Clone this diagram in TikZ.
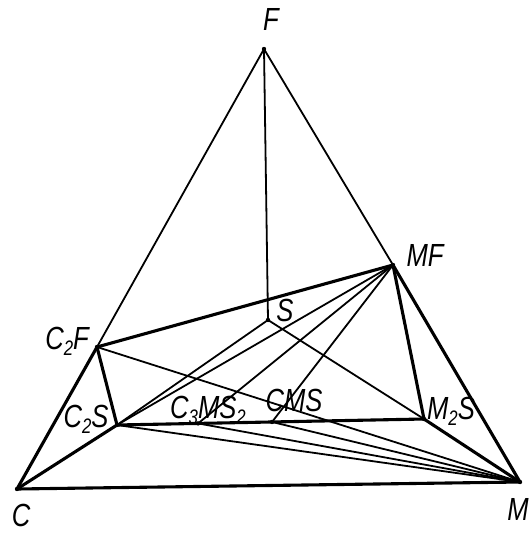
\documentclass[tikz,border=0pt]{standalone}
\usepackage{fontspec}
\setmainfont{Liberation Sans}
\newfontfamily\lblfont[FakeStretch=0.8]{Liberation Sans Italic}
\usetikzlibrary{calc}
\newcommand{\lsub}[1]{\raisebox{-0.35ex}{\fontsize{21}{21}\selectfont #1}}
\begin{document}
\begin{tikzpicture}[x=1pt,y=-1pt,
  thinline/.style={line width=1.8pt, line cap=round, line join=round},
  thickline/.style={line width=3.1pt, line cap=round, line join=round},
  lbl/.style={font=\lblfont\fontsize{32}{36}\selectfont, inner sep=0pt}]
\useasboundingbox (0,0) rectangle (529,533);
% vertices
\coordinate (F) at (264,49);
\coordinate (C) at (17,489);
\coordinate (M) at (520,482);
\coordinate (MF) at (393,265);
\coordinate (S) at (268,320);
\coordinate (C2F) at (97,347);
\coordinate (C2S) at (117,425);
\coordinate (M2S) at (424,419);
\coordinate (C3MS2) at ($(C2S)!0.264!(M2S)$);
\coordinate (CMS) at ($(C2S)!0.505!(M2S)$);
% thin lines
\draw[thinline] (F) -- (C2F);
\draw[thinline] (F) -- (MF);
\draw[thinline] (F) -- (S);
\draw[thinline] (S) -- (C2S);
\draw[thinline] (S) -- (M2S);
\draw[thinline] (C2F) -- (M);
\draw[thinline] (MF) -- (C2S);
\draw[thinline] (MF) -- (C3MS2);
\draw[thinline] (MF) -- (CMS);
\draw[thinline] (C2S) -- (M);
\draw[thinline] (C3MS2) -- (M);
\draw[thinline] (CMS) -- (M);
% thick lines
\draw[thickline] (C2F) -- (C);
\draw[thickline] (C) -- (M);
\draw[thickline] (MF) -- (M);
\draw[thickline] (C2F) -- (MF);
\draw[thickline] (C2F) -- (C2S);
\draw[thickline] (C) -- (C2S);
\draw[thickline] (C2S) -- (M2S);
\draw[thickline] (M2S) -- (MF);
\draw[thickline] (M2S) -- (M);
% dots
\foreach \p in {F,C,M,MF,S,C2F,C2S,M2S,C3MS2,CMS}
  \fill (\p) circle (2.2pt);
% labels
\node[lbl] (lF) at (271,19) {F};
\node[lbl] (lC) at (21,515) {C};
\node[lbl] (lM) at (518,509) {M};
\node[lbl] (lMF) at (425,255) {MF};
\node[lbl] (lS) at (285,310) {S};
\node[lbl] (lC2F) at (67,341) {C\lsub{2}F};
\node[lbl] (lC2S) at (86,419) {C\lsub{2}S};
\node[lbl] (lC3MS2) at (208,410) {C\lsub{3}MS\lsub{2}};
\node[lbl] (lCMS) at (294,400) {CMS};
\node[lbl] (lM2S) at (451,411) {M\lsub{2}S};
\end{tikzpicture}
\end{document}
